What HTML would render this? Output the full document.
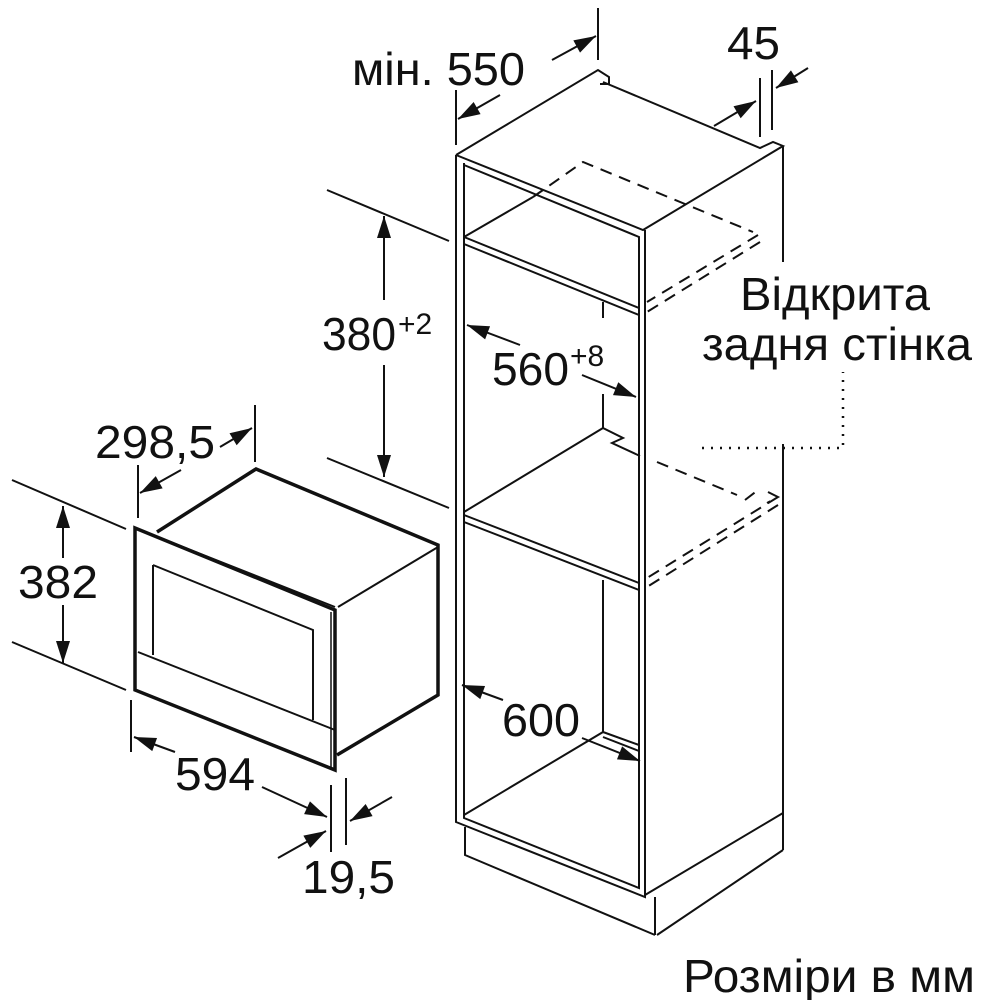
<!DOCTYPE html>
<html><head><meta charset="utf-8"><style>
html,body{margin:0;padding:0;background:#fff}
svg{display:block}
text{font-family:"Liberation Sans","DejaVu Sans",sans-serif;fill:#111}
</style></head><body>
<svg width="989" height="1000" viewBox="0 0 989 1000" xmlns="http://www.w3.org/2000/svg">
<defs>
<marker id="b" viewBox="-22 -7 24 14" refX="0" refY="0" markerWidth="24" markerHeight="14" markerUnits="userSpaceOnUse" orient="auto" style="overflow:visible">
<path d="M-22,-7 L0,0 L-22,7 Z" fill="#111"/>
</marker>
</defs>
<g stroke="#111" stroke-width="2" fill="none" stroke-linejoin="miter">
<path d="M456,155 L598,70 L609,77 L609,84 L600,84 M603,82 L760,148 L773,142 L783,146 L643,230 L456,155"/>
<path d="M456,155 L456,822 L645,897 L645,230"/>
<path d="M783,146 L783,262 M783,444 L783,850"/>
<path d="M464,163 L464,818 L639,888 L639,237 L464,165"/>
<path d="M464,237 L639,308 M464,244 L639,315 M464,237 L533,197"/>
<path d="M603,302 L603,318 M603,394 L603,428 L623,438 L612,443 L640,456"/>
<path d="M603,428 L464,512 M464,515 L639,583 M464,522 L639,590"/>
<path d="M603,580 L603,732 L464,815 M603,732 L639,745 M603,737 L639,751"/>
<path d="M465,827 L465,855 L655,935 M655,897 L655,935 M783,813 L645,895 M783,850 L657,935"/>
</g>
<g stroke="#111" stroke-width="2" fill="none" stroke-dasharray="12,8">
<path d="M533,197 L583,162 L753,232"/>
<path d="M758,235 L647,302 M760,242 L647,312"/>
<path d="M657,462 L737,495 M745,500 L758,490 M768,492 L778,497 L767,503"/>
<path d="M778,497 L647,578 M778,505 L647,587"/>
</g>
<g stroke="#111" stroke-width="2.5" fill="none" stroke-dasharray="2,7">
<path d="M702,448 L843,448 L843,372"/>
</g>
<g stroke="#111" fill="none">
<path d="M135,528 L335,610 L335,770 L135,690 Z" stroke-width="3.5"/>
<path d="M140,530 L335,607" stroke-width="2"/>
<path d="M157,532 L256,469 L438,545 L438,695 L337,755" stroke-width="3.5"/>
<path d="M338,607 L438,547" stroke-width="2"/>
<path d="M153,565 L313,630 L313,720 M153,565 L153,655" stroke-width="2"/>
<path d="M138,652 L335,730" stroke-width="2"/>
<path d="M331,612 L331,768" stroke-width="1.5"/>
</g>
<g stroke="#111" stroke-width="2" fill="none">
<path d="M456,90 L456,145 M598,8 L598,60"/>
<path d="M500,95 L458,119" marker-end="url(#b)"/>
<path d="M552,60 L596,36" marker-end="url(#b)"/>
<path d="M760,78 L760,137 M772,70 L772,130"/>
<path d="M714,126 L756,101" marker-end="url(#b)"/>
<path d="M808,68 L776,88" marker-end="url(#b)"/>
<path d="M327,190 L449,241 M327,458 L449,508"/>
<path d="M384,300 L384,216" marker-end="url(#b)"/>
<path d="M384,365 L384,477" marker-end="url(#b)"/>
<path d="M520,345 L467,325" marker-end="url(#b)"/>
<path d="M582,375 L636,397" marker-end="url(#b)"/>
<path d="M503,700 L462,685" marker-end="url(#b)"/>
<path d="M582,738 L640,761" marker-end="url(#b)"/>
<path d="M138,465 L138,518 M255,405 L255,462"/>
<path d="M181,470 L140,493" marker-end="url(#b)"/>
<path d="M220,447 L252,428" marker-end="url(#b)"/>
<path d="M12,480 L126,529 M12,642 L126,690"/>
<path d="M63,558 L63,506" marker-end="url(#b)"/>
<path d="M63,605 L63,663" marker-end="url(#b)"/>
<path d="M131,700 L131,752 M331,785 L331,852 M346,778 L346,845"/>
<path d="M175,752 L134,737" marker-end="url(#b)"/>
<path d="M262,787 L327,817" marker-end="url(#b)"/>
<path d="M278,858 L326,831" marker-end="url(#b)"/>
<path d="M392,797 L350,821" marker-end="url(#b)"/>
</g>
<g font-size="46">
<text x="352" y="85" textLength="173" lengthAdjust="spacingAndGlyphs">мін. 550</text>
<text x="727" y="59" textLength="53" lengthAdjust="spacingAndGlyphs">45</text>
<text x="322" y="350" textLength="74" lengthAdjust="spacingAndGlyphs">380</text>
<text x="398" y="334" font-size="30">+2</text>
<text x="492" y="385" textLength="77" lengthAdjust="spacingAndGlyphs">560</text>
<text x="570" y="366" font-size="30">+8</text>
<text x="502" y="736" textLength="78" lengthAdjust="spacingAndGlyphs">600</text>
<text x="95" y="458" textLength="120" lengthAdjust="spacingAndGlyphs">298,5</text>
<text x="18" y="598" textLength="80" lengthAdjust="spacingAndGlyphs">382</text>
<text x="175" y="790" textLength="80" lengthAdjust="spacingAndGlyphs">594</text>
<text x="302" y="893" textLength="93" lengthAdjust="spacingAndGlyphs">19,5</text>
<text x="740" y="310" textLength="190" lengthAdjust="spacingAndGlyphs">Відкрита</text>
<text x="702" y="360" textLength="270" lengthAdjust="spacingAndGlyphs">задня стінка</text>
<text x="683" y="992" textLength="292" lengthAdjust="spacingAndGlyphs">Розміри в мм</text>
</g>
</svg>
</body></html>
